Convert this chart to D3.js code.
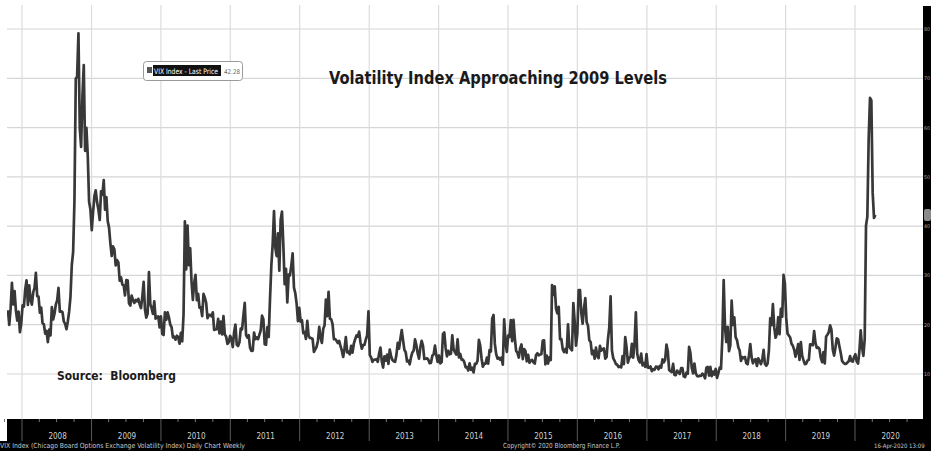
<!DOCTYPE html>
<html>
<head>
<meta charset="utf-8">
<script src="https://cdn.jsdelivr.net/npm/d3@7"></script>
<style>
  body { margin: 0; background: #fff; }
  text { font-family: "DejaVu Sans Condensed", "DejaVu Sans", sans-serif; }
</style>
</head>
<body>
<div id="my_chart"></div>
<script>
// weekly VIX closes, one array per year, first date of each array below
const weekStarts = ["2007-10-19", "2008-01-04", "2009-01-02", "2010-01-01", "2011-01-07", "2012-01-06", "2013-01-04",
    "2014-01-03", "2015-01-02", "2016-01-01", "2017-01-06", "2018-01-05", "2019-01-04", "2020-01-03"];

const vix2007 = [22.96, 19.97, 23.21, 28.50, 24.10, 26.84, 22.87, 20.85, 22.64, 18.47, 20.26];
const vix2008 = [23.94, 23.68, 27.18, 29.02, 24.02, 28.01, 25.02, 24.06, 26.54, 27.49, 30.50, 25.80, 25.71,
    22.45, 23.46, 20.30, 20.11, 18.18, 18.74, 16.47, 19.00, 17.83, 23.56, 21.06, 22.23, 24.10,
    24.94, 27.49, 22.63, 22.73, 22.57, 20.66, 20.18, 19.08, 20.65, 22.64, 25.66, 32.07, 34.74,
    45.14, 69.95, 70.33, 79.13, 59.89, 56.10, 66.31, 72.67, 55.28, 59.93, 54.28, 44.93, 43.38];
const vix2009 = [39.19, 42.82, 46.11, 47.27, 44.84, 43.37, 41.25, 47.08, 46.35, 49.33, 43.33, 45.89, 41.04,
    39.70, 36.53, 33.94, 35.88, 35.30, 32.05, 33.12, 32.63, 28.92, 29.62, 28.15, 27.99, 25.93,
    29.05, 29.02, 24.34, 23.87, 25.92, 25.00, 24.42, 25.01, 24.76, 25.26, 24.15, 23.39, 25.61,
    28.68, 23.12, 21.43, 22.27, 30.69, 24.19, 23.36, 22.19, 24.74, 21.25, 21.59, 21.68, 19.47];
const vix2010 = [21.68, 18.13, 17.91, 22.50, 21.00, 22.50, 21.50, 20.02, 19.50, 17.42, 17.58, 16.97, 17.77,
    17.47, 16.14, 18.36, 16.62, 22.05, 40.95, 31.24, 40.10, 32.07, 35.48, 28.79, 25.05, 28.53,
    30.12, 24.98, 26.25, 23.47, 23.50, 21.74, 26.24, 25.49, 24.45, 21.31, 21.99, 22.01, 21.71,
    22.50, 18.96, 19.03, 19.08, 21.20, 18.26, 20.61, 18.04, 21.74, 18.01, 17.61, 16.11, 16.47, 17.75];
const vix2011 = [17.14, 15.46, 18.47, 20.04, 15.93, 15.69, 16.43, 19.22, 19.06, 21.88, 24.44, 17.91,
    17.40, 17.87, 15.32, 14.69, 14.75, 18.40, 17.07, 17.43, 17.07, 17.95, 18.86, 21.85, 21.10,
    16.06, 15.95, 19.53, 17.52, 25.25, 32.00, 36.36, 43.05, 35.59, 33.92, 38.52, 30.98, 41.25, 42.96,
    36.27, 28.24, 31.32, 24.53, 30.16, 30.04, 32.00, 34.47, 27.52, 26.38, 24.29, 20.73, 23.40];
const vix2012 = [20.63, 20.91, 18.28, 18.53, 17.10, 20.79, 17.78, 17.31, 17.29, 17.11, 14.47, 15.00, 15.50,
    16.70, 19.55, 17.44, 16.32, 19.16, 19.89, 25.10, 21.76, 26.66, 21.23, 21.11, 20.11, 17.08,
    17.10, 16.74, 16.27, 16.70, 15.64, 14.74, 13.45, 15.18, 17.47, 14.38, 14.51, 13.98, 15.73,
    14.33, 16.14, 17.06, 17.81, 17.59, 18.61, 16.41, 15.14, 15.87, 15.90, 17.00, 17.84, 22.72];
const vix2013 = [13.83, 13.36, 12.46, 12.89, 12.90, 13.02, 12.46, 14.17, 15.36, 12.59, 11.30, 13.57, 12.70,
    13.92, 12.06, 14.97, 13.61, 12.85, 12.59, 12.45, 13.84, 16.30, 15.14, 17.15, 18.90, 16.86,
    14.89, 14.42, 12.54, 12.72, 11.98, 13.41, 14.37, 14.76, 17.01, 15.85, 14.16, 13.12, 15.46,
    16.74, 15.72, 13.04, 13.09, 13.19, 12.90, 12.19, 12.26, 13.70, 14.00, 15.76, 13.79, 12.46];
const vix2014 = [13.76, 12.14, 12.44, 18.14, 18.41, 15.29, 13.57, 14.68, 14.00, 14.11, 17.82, 15.00, 14.41,
    13.96, 17.03, 13.36, 14.06, 12.91, 12.92, 12.44, 11.36, 11.40, 10.73, 12.18, 10.85, 11.26,
    10.32, 12.08, 12.06, 12.69, 16.95, 15.77, 13.15, 11.47, 12.09, 12.09, 13.31, 12.11, 14.85,
    14.55, 21.24, 21.99, 16.11, 14.03, 13.12, 13.31, 12.90, 13.33, 11.89, 21.08, 16.49, 14.50];
const vix2015 = [17.79, 17.55, 20.95, 16.66, 20.97, 17.29, 14.69, 14.30, 13.34, 15.20, 16.00, 13.02, 15.07,
    14.67, 12.58, 13.89, 12.29, 12.70, 12.86, 12.38, 12.13, 13.84, 14.21, 13.78, 13.96, 14.02,
    16.79, 16.83, 11.95, 13.74, 12.12, 13.39, 12.83, 28.03, 26.05, 27.80, 23.20, 22.28, 23.62,
    17.08, 17.08, 15.05, 14.46, 15.07, 14.33, 20.08, 15.47, 15.12, 14.81, 24.39, 20.70, 15.74];
const vix2016 = [18.21, 27.01, 27.02, 22.34, 20.20, 23.38, 25.40, 20.53, 19.81, 16.86, 16.50, 14.02, 14.74,
    13.10, 15.36, 13.62, 13.22, 15.70, 14.72, 15.04, 15.20, 13.12, 13.47, 17.03, 19.41, 25.76,
    14.77, 13.20, 12.67, 12.02, 11.87, 11.39, 11.55, 11.34, 13.65, 11.98, 17.50, 15.37, 12.29, 13.29,
    13.48, 16.12, 13.34, 16.19, 22.51, 14.17, 12.85, 12.34, 14.12, 11.75, 12.20, 11.44, 14.04];
const vix2017 = [11.32, 11.23, 11.54, 10.58, 10.97, 10.85, 11.49, 11.47, 10.96, 11.66, 11.28, 12.96, 12.37,
    12.87, 15.96, 14.63, 10.82, 10.57, 10.40, 12.04, 9.81, 9.75, 10.70, 10.38, 10.02, 11.18,
    11.19, 9.51, 9.36, 10.29, 10.03, 15.51, 14.26, 11.28, 10.13, 12.12, 10.17, 9.59, 9.51,
    9.65, 9.61, 10.07, 9.80, 9.14, 11.29, 11.43, 9.67, 11.43, 9.58, 10.49, 9.90, 11.04];
const vix2018 = [9.22, 10.16, 11.27, 11.08, 17.31, 29.06, 19.46, 16.49, 19.59, 14.64, 15.80, 24.87, 19.97,
    21.49, 17.41, 16.88, 15.41, 14.77, 12.65, 13.42, 13.22, 13.46, 12.18, 11.98, 13.77, 16.09,
    13.37, 12.18, 12.86, 13.03, 11.64, 13.16, 12.64, 11.99, 12.86, 14.88, 12.07, 11.68, 12.12,
    14.82, 21.31, 19.89, 24.16, 19.51, 17.36, 18.14, 21.52, 18.07, 23.23, 21.63, 30.11, 28.34];
const vix2019 = [21.38, 18.19, 17.80, 17.42, 16.14, 15.72, 14.91, 13.51, 14.63, 16.05, 12.88, 16.48, 13.71,
    12.82, 12.01, 12.09, 12.73, 12.87, 16.04, 15.96, 15.85, 18.71, 16.30, 15.28, 15.40, 15.08,
    13.28, 12.39, 14.45, 12.16, 17.61, 17.97, 18.47, 19.87, 18.98, 15.00, 13.74, 15.32, 17.22,
    17.04, 15.58, 14.25, 12.65, 12.30, 12.07, 12.05, 12.34, 12.62, 13.62, 12.63, 12.51, 13.43];
const vix2020 = [14.02, 12.56, 12.10, 14.56, 18.84, 15.47, 13.68, 17.08, 40.11, 41.94, 57.83, 66.04, 65.54,
    46.80, 41.67, 42.28];

const vixByYear = [vix2007, vix2008, vix2009, vix2010, vix2011, vix2012, vix2013,
    vix2014, vix2015, vix2016, vix2017, vix2018, vix2019, vix2020];

const yearLabels = ["2008", "2009", "2010", "2011", "2012", "2013", "2014", "2015", "2016", "2017", "2018", "2019", "2020"];
const yTicks = [10, 20, 30, 40, 50, 60, 70, 80];
const lastPrice = 42.28;

const W = 931, H = 451;
const plot = { left: 7, right: 923, top: 5, bottom: 419 };

const parseDate = d3.timeParse("%Y-%m-%d");

// flatten into {date, value}
const data = [];
vixByYear.forEach((arr, i) => {
    const start = parseDate(weekStarts[i]);
    arr.forEach((v, j) => data.push({ date: d3.timeDay.offset(start, 7 * j), value: v }));
});

const svg = d3.select("#my_chart")
    .append("svg")
    .attr("width", W)
    .attr("height", H);

// x: year boundaries at 22 (2008) ... 855 (2020)
const x = d3.scaleTime()
    .domain([parseDate("2008-01-01"), parseDate("2020-01-01")])
    .range([22, 855]);

const y = d3.scaleLinear()
    .domain([10, 80])
    .range([374, 29]);

// grid
const yearDates = yearLabels.map(t => parseDate(t + "-01-01"));

svg.append("g")
    .selectAll("line")
    .data(yTicks)
    .join("line")
    .attr("x1", plot.left).attr("x2", plot.right)
    .attr("y1", d => y(d)).attr("y2", d => y(d))
    .attr("stroke", "#d6d6d6")
    .attr("stroke-width", 1.2);

svg.append("g")
    .selectAll("line")
    .data(yearDates)
    .join("line")
    .attr("x1", d => x(d)).attr("x2", d => x(d))
    .attr("y1", plot.top).attr("y2", plot.bottom)
    .attr("stroke", "#dcdcdc")
    .attr("stroke-width", 1.2);

// bottom band
svg.append("rect").attr("x", plot.left).attr("y", plot.bottom).attr("width", W - plot.left).attr("height", H - plot.bottom).attr("fill", "#000");
svg.append("rect").attr("x", 0).attr("y", 441).attr("width", plot.left + 1).attr("height", 10).attr("fill", "#000");
// right band
svg.append("rect").attr("x", plot.right).attr("y", 6).attr("width", W - plot.right).attr("height", H - 6).attr("fill", "#000");

// year dividers and minor ticks in the band
svg.append("g")
    .selectAll("line")
    .data(yearDates)
    .join("line")
    .attr("x1", d => x(d)).attr("x2", d => x(d))
    .attr("y1", plot.bottom).attr("y2", 441)
    .attr("stroke", "#5a5a5a");

const quarters = d3.timeMonth.every(3).range(parseDate("2007-10-01"), parseDate("2020-12-31"))
    .filter(d => d.getMonth() !== 0);
svg.append("g")
    .selectAll("line")
    .data(quarters)
    .join("line")
    .attr("x1", d => x(d)).attr("x2", d => x(d))
    .attr("y1", plot.bottom).attr("y2", plot.bottom + 3)
    .attr("stroke", "#777");

svg.append("g")
    .selectAll("text")
    .data(yearLabels)
    .join("text")
    .attr("x", d => x(d3.timeMonth.offset(parseDate(d + "-01-01"), 6)) + 1)
    .attr("y", 439)
    .attr("text-anchor", "middle")
    .attr("font-size", 8)
    .attr("fill", "#d0d0d0")
    .text(d => d);

// right axis labels, squeezed into the narrow band
svg.append("g")
    .selectAll("text")
    .data(yTicks)
    .join("text")
    .attr("x", 924)
    .attr("y", d => y(d) + 2)
    .attr("font-size", 5)
    .attr("fill", "#aaa")
    .attr("textLength", 6)
    .attr("lengthAdjust", "spacingAndGlyphs")
    .text(d => d);

svg.append("rect")
    .attr("x", 924).attr("y", y(lastPrice) - 6)
    .attr("width", 7).attr("height", 12).attr("rx", 2)
    .attr("fill", "#8a8a8a");

// footer
svg.append("text").attr("x", 0).attr("y", 448).attr("font-size", 7).attr("fill", "#c8c8c8")
    .attr("textLength", 245).attr("lengthAdjust", "spacingAndGlyphs")
    .text("VIX Index (Chicago Board Options Exchange Volatility Index) Daily Chart Weekly");
svg.append("text").attr("x", 503).attr("y", 448).attr("font-size", 7).attr("fill", "#c8c8c8")
    .attr("textLength", 117).attr("lengthAdjust", "spacingAndGlyphs")
    .text("Copyright\u00a9 2020 Bloomberg Finance L.P.");
svg.append("text").attr("x", 874).attr("y", 448).attr("font-size", 6).attr("fill", "#c8c8c8")
    .text("16-Apr-2020 13:09");

// line
svg.append("clipPath").attr("id", "plotclip")
    .append("rect").attr("x", plot.left).attr("y", plot.top)
    .attr("width", plot.right - plot.left).attr("height", plot.bottom - plot.top);

svg.append("path")
    .datum(data)
    .attr("clip-path", "url(#plotclip)")
    .attr("fill", "none")
    .attr("stroke", "#383838")
    .attr("stroke-width", 2.7)
    .attr("stroke-linejoin", "round")
    .attr("d", d3.line()
        .x(d => x(d.date))
        .y(d => y(d.value)));

// legend
const lg = svg.append("g");
lg.append("rect").attr("x", 143.5).attr("y", 61.5).attr("width", 99).attr("height", 19).attr("rx", 3)
    .attr("fill", "#fff").attr("stroke", "#9a9a9a");
lg.append("rect").attr("x", 147).attr("y", 67).attr("width", 5).attr("height", 6).attr("fill", "#555");
lg.append("rect").attr("x", 153).attr("y", 65).attr("width", 68).attr("height", 11).attr("fill", "#111");
lg.append("text").attr("x", 154).attr("y", 73.5).attr("font-size", 7.5).attr("fill", "#fff")
    .attr("textLength", 64).attr("lengthAdjust", "spacingAndGlyphs").text("VIX Index - Last Price");
lg.append("text").attr("x", 224).attr("y", 73.5).attr("font-size", 6.5).attr("fill", "#666")
    .attr("textLength", 16).attr("lengthAdjust", "spacingAndGlyphs")
    .text(lastPrice);

// titles
svg.append("text")
    .attr("x", 329).attr("y", 84)
    .attr("font-size", 18).attr("font-weight", "bold").attr("fill", "#1a1a1a")
    .attr("textLength", 338).attr("lengthAdjust", "spacingAndGlyphs")
    .text("Volatility Index Approaching 2009 Levels");

svg.append("text")
    .attr("x", 57).attr("y", 380)
    .attr("font-size", 13).attr("font-weight", "bold").attr("fill", "#1a1a1a")
    .attr("textLength", 119).attr("lengthAdjust", "spacingAndGlyphs")
    .style("white-space", "pre")
    .text("Source:  Bloomberg");
</script>
</body>
</html>
